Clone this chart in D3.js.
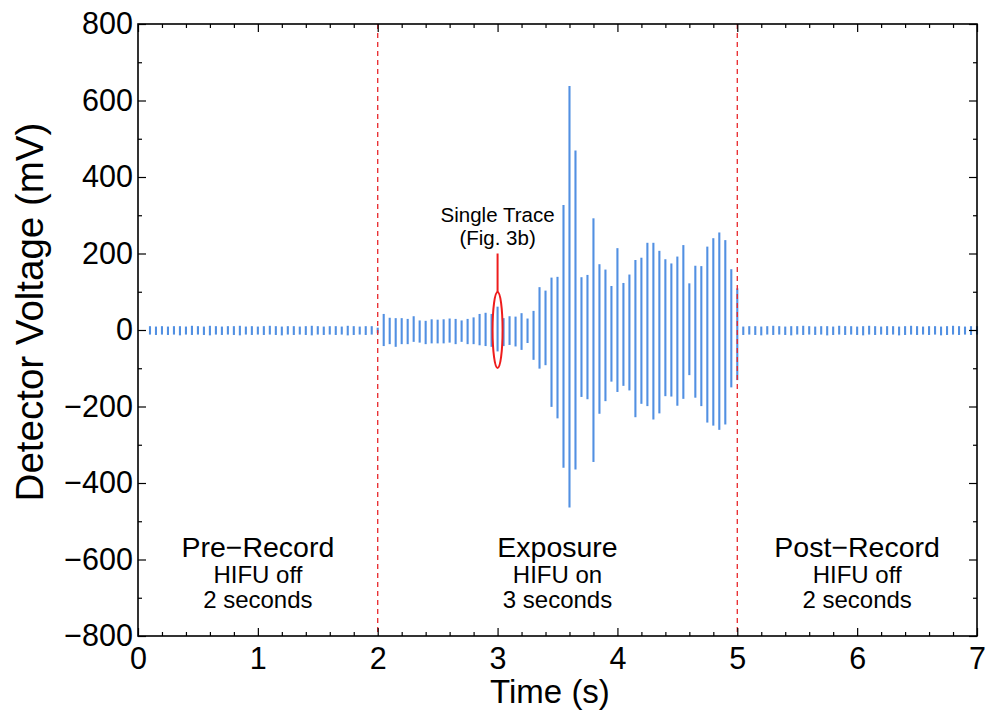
<!DOCTYPE html>
<html><head><meta charset="utf-8">
<script src="https://cdn.jsdelivr.net/npm/d3@7"></script>
<style>
body{margin:0;background:#fff}
text{font-family:"Liberation Sans",Arial,Helvetica,sans-serif;fill:#000}
</style>
</head><body>
<svg id="c" width="987" height="715"></svg>
<script>
// ---------- data ----------
const xTicks = [0,1,2,3,4,5,6,7];
const yTicks = [-800,-600,-400,-200,0,200,400,600,800];
const xMinor = [0.2,0.4,0.6,0.8,1.2,1.4,1.6,1.8,2.2,2.4,2.6,2.8,3.2,3.4,3.6,3.8,4.2,4.4,4.6,4.8,5.2,5.4,5.6,5.8,6.2,6.4,6.6,6.8];
const yMinor = [-700,-500,-300,-100,100,300,500,700];

// Pre-record pulses (HIFU off)
const preTime = [0.10,0.15,0.20,0.25,0.30,0.35,0.40,0.45,0.50,0.55,0.60,0.65,0.70,0.75,0.80,0.85,0.90,0.95,1.00,1.05,1.10,1.15,1.20,1.25,1.30,1.35,1.40,1.45,1.50,1.55,1.60,1.65,1.70,1.75,1.80,1.85,1.90,1.95];
const preMax  = [10,9,10,9,10,10,9,11,10,9,11,10,9,10,10,11,9,10,9,10,11,10,9,10,10,9,10,11,10,9,10,10,9,11,10,9,10,10];
const preMin  = [-12,-13,-12,-13,-12,-14,-12,-13,-12,-13,-14,-12,-13,-12,-13,-14,-12,-13,-12,-13,-12,-13,-14,-12,-13,-12,-13,-14,-12,-13,-12,-13,-12,-14,-13,-12,-13,-12];

// Exposure pulses (HIFU on)
const expTime = [2.00,2.05,2.10,2.15,2.20,2.25,2.30,2.35,2.40,2.45,2.50,2.55,2.60,2.65,2.70,2.75,2.80,2.85,2.90,2.95,3.00,3.05,3.10,3.15,3.20,3.25,3.30,3.35,3.40,3.45,3.50,3.55,3.60,3.65,3.70,3.75,3.80,3.85,3.90,3.95,4.00,4.05,4.10,4.15,4.20,4.25,4.30,4.35,4.40,4.45,4.50,4.55,4.60,4.65,4.70,4.75,4.80,4.85,4.90,4.95,5.00];
const expMax  = [6,42,32,31,31,29,36,25,24,28,27,28,30,29,25,29,33,42,45,42,61,31,36,35,44,30,50,112,103,137,139,327,638,469,138,144,292,172,158,115,214,123,145,183,189,228,228,207,185,174,192,222,122,168,167,218,240,255,235,159,109];
const expMin  = [-9,-42,-37,-44,-37,-37,-31,-33,-37,-35,-35,-35,-33,-37,-31,-37,-37,-40,-42,-44,-56,-42,-39,-43,-52,-34,-78,-101,-92,-201,-231,-360,-464,-365,-175,-181,-345,-219,-186,-135,-162,-146,-158,-228,-193,-199,-234,-218,-173,-174,-198,-180,-118,-177,-199,-242,-250,-261,-247,-150,-131];

// Post-record pulses (HIFU off)
const postTime = [5.05,5.10,5.15,5.20,5.25,5.30,5.35,5.40,5.45,5.50,5.55,5.60,5.65,5.70,5.75,5.80,5.85,5.90,5.95,6.00,6.05,6.10,6.15,6.20,6.25,6.30,6.35,6.40,6.45,6.50,6.55,6.60,6.65,6.70,6.75,6.80,6.85,6.90,6.95,7.00];
const postMax  = [9,10,10,9,10,11,10,9,10,10,11,10,9,10,10,9,11,10,10,9,10,11,10,9,10,10,9,10,11,10,9,10,10,9,10,11,10,9,10,10];
const postMin  = [-13,-12,-13,-14,-12,-13,-12,-13,-14,-12,-13,-12,-13,-12,-14,-13,-12,-13,-12,-13,-14,-12,-13,-12,-13,-12,-14,-13,-12,-13,-12,-13,-12,-14,-13,-12,-13,-12,-13,-12];

const phaseBounds = [2,5];
const phases = [
  {title:"Pre\u2212Record", l1:"HIFU off", l2:"2 seconds", mid:1},
  {title:"Exposure", l1:"HIFU on", l2:"3 seconds", mid:3.5},
  {title:"Post\u2212Record", l1:"HIFU off", l2:"2 seconds", mid:6}
];
const traceTime = 3.0;

// ---------- chart ----------
(function(){
const W=987,H=715, m={l:138,r:10,t:24,b:79};
const svg = d3.select("#c");
const x = d3.scaleLinear().domain([0,7]).range([m.l, W-m.r]);
const y = d3.scaleLinear().domain([-800,800]).range([H-m.b, m.t]);
const fmt = d => (d<0? "\u2212"+Math.abs(d) : ""+d);

const pulses = [];
function add(t,mx,mn){ t.forEach((v,i)=>pulses.push({t:v,max:mx[i],min:mn[i]})); }
add(preTime,preMax,preMin); add(expTime,expMax,expMin); add(postTime,postMax,postMin);

// pulses
svg.append("g").selectAll("line").data(pulses).join("line")
  .attr("x1",d=>x(d.t)).attr("x2",d=>x(d.t))
  .attr("y1",d=>y(d.max)).attr("y2",d=>y(d.min))
  .attr("stroke","#5290e2").attr("stroke-width",2.1);

// dashed boundaries
svg.append("g").selectAll("line").data(phaseBounds).join("line")
  .attr("x1",d=>x(d)).attr("x2",d=>x(d))
  .attr("y1",y(800)).attr("y2",y(-800))
  .attr("stroke","#e8262a").attr("stroke-width",1.3).attr("stroke-dasharray","5,4");

// single trace annotation
svg.append("ellipse").attr("cx",x(traceTime)).attr("cy",y(0)).attr("rx",5).attr("ry",38)
  .attr("fill","none").attr("stroke","#ee1c1c").attr("stroke-width",2);
svg.append("line").attr("x1",x(traceTime)).attr("x2",x(traceTime))
  .attr("y1",y(200)).attr("y2",y(0)-38).attr("stroke","#ee1c1c").attr("stroke-width",2);
svg.append("text").attr("x",x(traceTime)).attr("y",222).attr("text-anchor","middle")
  .style("font-size","20.5px").text("Single Trace");
svg.append("text").attr("x",x(traceTime)).attr("y",245).attr("text-anchor","middle")
  .style("font-size","20.5px").text("(Fig. 3b)");

// phase labels
const pl = svg.append("g");
phases.forEach(p=>{
  pl.append("text").attr("x",x(p.mid)).attr("y",557).attr("text-anchor","middle").style("font-size","28.5px").text(p.title);
  pl.append("text").attr("x",x(p.mid)).attr("y",583).attr("text-anchor","middle").style("font-size","24px").text(p.l1);
  pl.append("text").attr("x",x(p.mid)).attr("y",608).attr("text-anchor","middle").style("font-size","24px").text(p.l2);
});

// axes
function styleAxis(g){ g.select(".domain").remove(); g.selectAll("line").attr("stroke","#000").attr("stroke-width",1.2); g.selectAll("text").style("font-size","30.5px").attr("fill","#000"); }
const pB = H-m.b, pT = m.t, pL = m.l, pR = W-m.r;
svg.append("g").attr("transform",`translate(0,${pB})`)
  .call(d3.axisBottom(x).tickValues(xTicks).tickSize(-8).tickPadding(11).tickFormat(d=>d)).call(styleAxis);
svg.append("g").attr("transform",`translate(0,${pB})`)
  .call(d3.axisBottom(x).tickValues(xMinor).tickSize(-4).tickFormat("")).call(styleAxis);
svg.append("g").attr("transform",`translate(0,${pT})`)
  .call(d3.axisTop(x).tickValues(xTicks).tickSize(-8).tickFormat("")).call(styleAxis);
svg.append("g").attr("transform",`translate(0,${pT})`)
  .call(d3.axisTop(x).tickValues(xMinor).tickSize(-4).tickFormat("")).call(styleAxis);
svg.append("g").attr("transform",`translate(${pL},0)`)
  .call(d3.axisLeft(y).tickValues(yTicks).tickSize(-8).tickPadding(5).tickFormat(fmt)).call(styleAxis);
svg.append("g").attr("transform",`translate(${pL},0)`)
  .call(d3.axisLeft(y).tickValues(yMinor).tickSize(-4).tickFormat("")).call(styleAxis);
svg.append("g").attr("transform",`translate(${pR},0)`)
  .call(d3.axisRight(y).tickValues(yTicks).tickSize(-8).tickFormat("")).call(styleAxis);
svg.append("g").attr("transform",`translate(${pR},0)`)
  .call(d3.axisRight(y).tickValues(yMinor).tickSize(-4).tickFormat("")).call(styleAxis);

svg.append("rect").attr("x",pL).attr("y",pT).attr("width",pR-pL).attr("height",pB-pT)
  .attr("fill","none").attr("stroke","#000").attr("stroke-width",1.6);

// axis titles
svg.append("text").attr("x",550).attr("y",703).attr("text-anchor","middle").style("font-size","33px").text("Time (s)");
svg.append("text").attr("transform",`translate(43,${(pT+pB)/2 - 18}) rotate(-90)`).attr("text-anchor","middle")
  .style("font-size","38.5px").text("Detector Voltage (mV)");
})();
</script>
</body></html>
